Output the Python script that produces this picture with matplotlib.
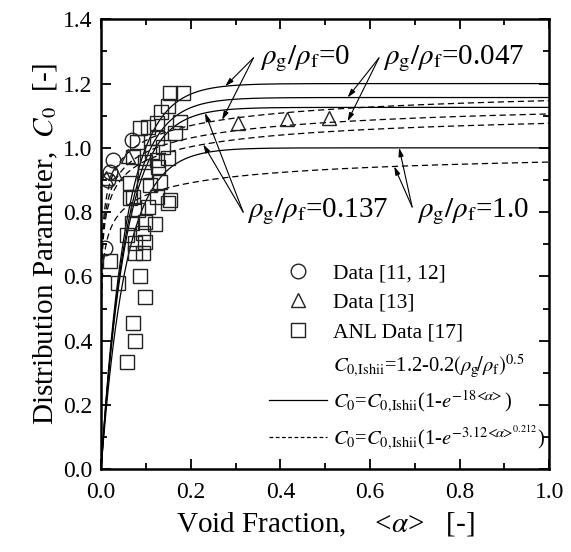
import numpy as np
import matplotlib
matplotlib.use("Agg")
import matplotlib.pyplot as plt
from matplotlib.lines import Line2D
from matplotlib.ticker import MultipleLocator, FormatStrFormatter

plt.rcParams['font.family'] = ['Liberation Serif', 'DejaVu Serif']
plt.rcParams['mathtext.fontset'] = 'stix'

# density ratios and Ishii constants
rho_ratio = [0.0, 0.047, 0.137, 1.0]
c_a, c_b = 1.2, 0.2
k_solid = 18.0
k_dash, p_dash = 3.12, 0.212

# data (void fraction, C0)
circ_a = [0.009, 0.016, 0.020, 0.027, 0.069]
circ_c = [0.688, 0.900, 0.925, 0.963, 1.025]

tri_a = [0.012, 0.031, 0.060, 0.306, 0.415, 0.509]
tri_c = [0.905, 0.922, 0.975, 1.078, 1.090, 1.094]

anl_a = [0.154, 0.183, 0.150, 0.134, 0.087, 0.105, 0.125, 0.176, 0.165, 0.080,
         0.138, 0.125, 0.114, 0.150, 0.098, 0.125, 0.071, 0.065, 0.132, 0.098,
         0.127, 0.109, 0.071, 0.125, 0.154, 0.065, 0.083, 0.098, 0.150, 0.058,
         0.094, 0.076, 0.098, 0.069, 0.121, 0.094, 0.076, 0.020, 0.038, 0.087,
         0.098, 0.071, 0.076, 0.058, 0.105]
anl_c = [1.171, 1.171, 1.131, 1.112, 1.062, 1.065, 1.078, 1.081, 1.047, 1.019,
         1.003, 1.031, 0.988, 0.969, 0.956, 0.963, 0.972, 0.891, 0.894, 0.925,
         0.941, 0.885, 0.847, 0.847, 0.838, 0.844, 0.807, 0.769, 0.829, 0.729,
         0.735, 0.704, 0.707, 0.766, 0.763, 0.673, 0.673, 0.648, 0.579, 0.601,
         0.536, 0.455, 0.399, 0.333, 0.816]


def c0_ishii(r):
    return c_a - c_b * np.sqrt(r)

def c0_solid(a, r):
    return c0_ishii(r) * (1 - np.exp(-k_solid * a))

def c0_dash(a, r):
    return c0_ishii(r) * (1 - np.exp(-k_dash * a ** p_dash))


fig = plt.figure(figsize=(5.71, 5.52), dpi=100)
ax = fig.add_axes([0.177, 0.150, 0.785, 0.815])

alpha = np.linspace(0, 1, 3001)
for r in rho_ratio:
    ax.plot(alpha, c0_solid(alpha, r), color='black', lw=0.9)
    ax.plot(alpha, c0_dash(alpha, r), color='black', lw=0.9, dashes=(5, 3))

mk = dict(ls='none', mfc='none', mec='#222222', mew=1.0, ms=10.5)
ax.plot(circ_a, circ_c, marker='o', **mk)
ax.plot(tri_a, tri_c, marker='^', **mk)
ax.plot(anl_a, anl_c, marker='s', **mk)

# labels with arrows: (ratio, text pos, arrow tail, solid tip alpha, dashed tip alpha)
notes = [
    (0.0, '0', (0.355, 1.262), (0.34, 1.28), 0.277, 0.270),
    (0.047, '0.047', (0.629, 1.262), (0.62, 1.28), 0.55, 0.55),
    (0.137, '0.137', (0.326, 0.785), (0.317, 0.80), 0.232, 0.228),
    (1.0, '1.0', (0.705, 0.785), (0.694, 0.816), 0.665, 0.654),
]
aprops = dict(arrowstyle='-|>,head_length=0.5,head_width=0.15', color='black',
              lw=0.8, shrinkA=0, shrinkB=0)
for r, s, tpos, tail, ts, td in notes:
    ax.text(tpos[0], tpos[1], r'$\rho_\mathrm{g}/\rho_\mathrm{f}$=' + s,
            fontsize=21, ha='left', va='baseline')
    ax.annotate('', xy=(ts, c0_solid(ts, r)), xytext=tail, arrowprops=aprops)
    ax.annotate('', xy=(td, c0_dash(td, r)), xytext=tail, arrowprops=aprops)

handles = [
    Line2D([], [], marker='o', **mk),
    Line2D([], [], marker='^', **mk),
    Line2D([], [], marker='s', **mk),
    Line2D([], [], ls='none'),
    Line2D([], [], color='black', lw=0.9),
    Line2D([], [], color='black', lw=0.9, dashes=(3, 2)),
]
labels = [
    'Data [11, 12]',
    'Data [13]',
    'ANL Data [17]',
    r'$C_{0,\!\mathrm{Ishii}}$=1.2-0.2$(\rho_\mathrm{g}\!/\rho_\mathrm{f})^{0.5}$',
    r'$C_0$=$C_{0,\!\mathrm{Ishii}}$(1-$e^{-18\!<\!\!\alpha\!\!>}$)',
    r'$C_0$=$C_{0,\!\mathrm{Ishii}}$(1-$e^{-3.12\!<\!\!\alpha\!\!>^{\!0.212}}$)',
]
leg = ax.legend(handles, labels, loc='lower left', bbox_to_anchor=(0.375, 0.04),
                frameon=False, fontsize=15.5, handlelength=2.7, handletextpad=0.25,
                labelspacing=0.44, borderpad=0, borderaxespad=0)
for t in leg.get_texts()[3:]:
    t.set_fontsize(14.8)

ax.set_xlim(0, 1.0)
ax.set_ylim(0, 1.4)
ax.xaxis.set_major_locator(MultipleLocator(0.2))
ax.xaxis.set_minor_locator(MultipleLocator(0.1))
ax.yaxis.set_major_locator(MultipleLocator(0.2))
ax.yaxis.set_minor_locator(MultipleLocator(0.1))
ax.xaxis.set_major_formatter(FormatStrFormatter('%.1f'))
ax.yaxis.set_major_formatter(FormatStrFormatter('%.1f'))
ax.tick_params(which='both', direction='in', top=True, right=True, width=1.3,
               labelsize=17)
ax.tick_params(which='major', length=7)
ax.tick_params(which='minor', length=4)
ax.tick_params(axis='x', which='major', pad=9)
ax.tick_params(axis='y', which='major', pad=6)
for sp in ax.spines.values():
    sp.set_linewidth(1.8)

ax.set_xlabel(r'Void Fraction,    <$\alpha$>   [-]', fontsize=21, labelpad=6)
ax.set_ylabel(r'Distribution Parameter,  $C_0$  [-]', fontsize=21, labelpad=2)

fig.savefig('out.png', dpi=100)
